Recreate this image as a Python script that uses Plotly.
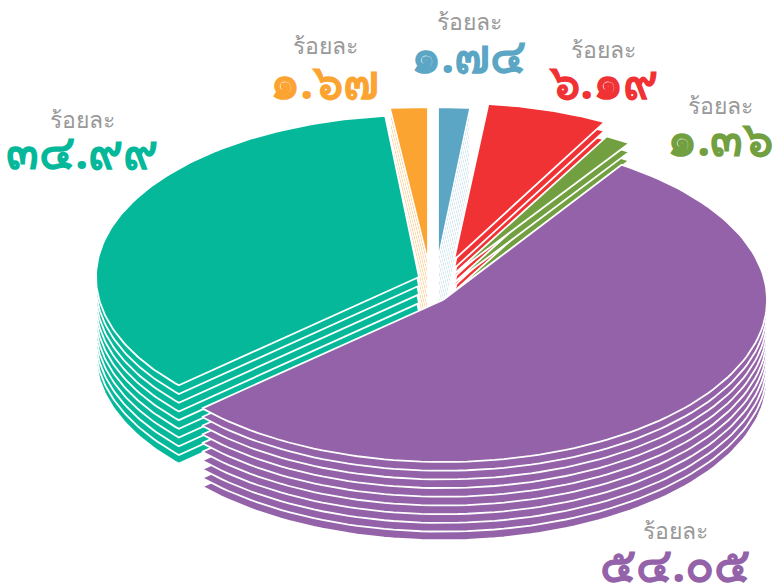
import numpy as np
import plotly.graph_objects as go

# Data
names = ["blue", "red", "green", "purple", "teal", "orange"]
values = [1.74, 6.19, 1.36, 54.05, 34.99, 1.67]
value_labels = ["๑.๗๔", "๖.๑๙", "๑.๓๖", "๕๔.๐๕", "๓๔.๙๙", "๑.๖๗"]
unit_label = "ร้อยละ"

# Style
colors = ["#5BA6C4", "#F13235", "#72A040", "#9462A8", "#05B89A", "#FCA431"]
explode_x = [-2, 14, 13, 3, -21, -12]
explode_y = [-15, -15, 0, 25, 2, -13]
radius_x = [295, 315, 320, 324, 323, 364]
radius_y = [153, 157, 158, 162, 162, 155]
draw_order = [0, 5, 1, 2, 4, 3]
label_x = [469, 603, 720, 675, 82, 325]
unit_y = [21, 49, 105, 530, 119, 45]
number_y = [54, 80, 137, 563, 150, 80]
NUM_SIZE = 48
CX, CY = 440, 275
LAYERS = 10
STEP = 8.7

fig = go.Figure()
cum = np.concatenate([[0], np.cumsum(values)]) / sum(values) * 2 * np.pi
for layer in range(LAYERS - 1, -1, -1):
    for i in draw_order:
        t = np.linspace(cum[i], cum[i + 1], 120)
        ox = CX + explode_x[i]
        oy = CY + explode_y[i] + layer * STEP
        xs = np.concatenate([[ox], ox + radius_x[i] * np.sin(t), [ox]])
        ys = np.concatenate([[oy], oy - radius_y[i] * np.cos(t), [oy]])
        fig.add_trace(go.Scatter(x=xs, y=ys, mode="lines", fill="toself",
                                 fillcolor=colors[i],
                                 line=dict(color="white", width=1.8),
                                 hoverinfo="skip", showlegend=False, name=names[i]))

ann = []
for i in range(len(values)):
    ann.append(dict(x=label_x[i], y=unit_y[i], text=unit_label, showarrow=False,
                    font=dict(size=23, color="#999999", family="Noto Sans, sans-serif")))
    ann.append(dict(x=label_x[i], y=number_y[i], text="<b>" + value_labels[i] + "</b>", showarrow=False,
                    font=dict(size=NUM_SIZE, color=colors[i], family="Noto Sans, sans-serif")))

fig.update_layout(width=774, height=585, margin=dict(l=0, r=0, t=0, b=0),
                  paper_bgcolor="white", plot_bgcolor="white", annotations=ann,
                  xaxis=dict(range=[0, 774], visible=False, fixedrange=True),
                  yaxis=dict(range=[585, 0], visible=False, fixedrange=True))
fig.write_html("out.html", config=dict(displayModeBar=False),
               post_script="document.body.style.margin='0';document.body.style.overflow='hidden';")
